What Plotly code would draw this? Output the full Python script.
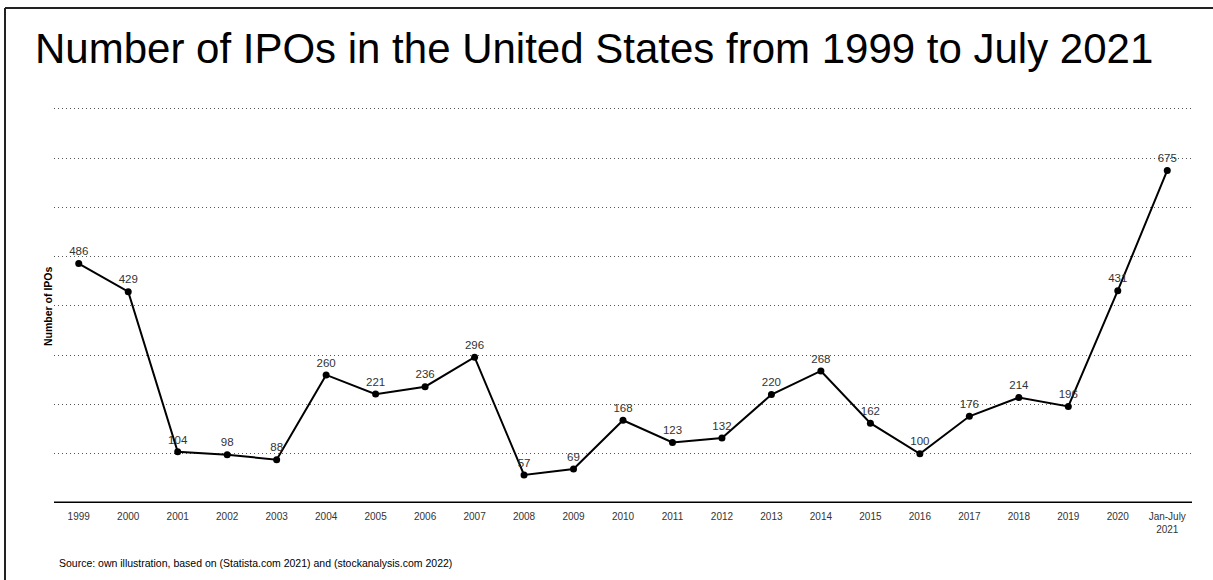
import plotly.graph_objects as go

categories = ["1999", "2000", "2001", "2002", "2003", "2004", "2005", "2006", "2007",
              "2008", "2009", "2010", "2011", "2012", "2013", "2014", "2015", "2016",
              "2017", "2018", "2019", "2020", "Jan-July<br>2021"]
ipos = [486, 429, 104, 98, 88, 260, 221, 236, 296, 57, 69, 168, 123, 132, 220, 268,
        162, 100, 176, 214, 196, 431, 675]
y_ticks = [0, 100, 200, 300, 400, 500, 600, 700, 800]

W, H = 1213, 580
Y_MAX = 820
L, R, B = 54, 21, 77
unit = 394 / 800.0
T = int(round(H - B - Y_MAX * unit))
pw, ph = W - L - R, H - T - B

def px_x(p):
    return (p - L) / pw

def px_y(p):
    return (H - B - p) / ph

fig = go.Figure()
fig.add_trace(go.Scatter(
    x=list(range(len(categories))), y=ipos,
    mode="lines+markers+text",
    line=dict(color="black", width=2),
    marker=dict(color="black", size=7),
    text=[str(v) for v in ipos],
    textposition="top center",
    textfont=dict(family="Liberation Sans, Arial", size=11.5, color="#333"),
    cliponaxis=False,
    showlegend=False,
))

fig.update_layout(
    width=W, height=H,
    margin=dict(l=L, r=R, t=T, b=B),
    paper_bgcolor="white", plot_bgcolor="white",
    font=dict(family="Liberation Sans, Arial", color="#333"),
    title=dict(
        text="Number of IPOs in the United States from 1999 to July 2021",
        x=35 / W, xanchor="left", xref="container",
        y=1 - 48 / H, yanchor="middle", yref="container",
        font=dict(family="Liberation Sans, Arial", size=42, color="black"),
    ),
    xaxis=dict(
        range=[-0.5, len(categories) - 0.5],
        tickmode="array",
        tickvals=list(range(len(categories))),
        ticktext=categories,
        tickfont=dict(size=10, color="#333"),
        ticklabelstandoff=6,
        showgrid=False, zeroline=False,
        showline=False, ticks="",
        fixedrange=True,
    ),
    yaxis=dict(
        range=[0, Y_MAX],
        tickvals=y_ticks,
        showticklabels=False,
        showgrid=True, gridcolor="#555", griddash="1px,3px", gridwidth=1,
        zeroline=False, showline=False, ticks="",
        fixedrange=True,
    ),
)

# x axis baseline
fig.add_shape(type="line", xref="paper", yref="y", x0=0, x1=1, y0=0, y1=0,
              line=dict(color="black", width=3))

# frame lines (top and left)
fig.add_shape(type="line", xref="paper", yref="paper",
              x0=px_x(5), x1=px_x(W + 5), y0=px_y(8), y1=px_y(8),
              line=dict(color="#222", width=2))
fig.add_shape(type="line", xref="paper", yref="paper",
              x0=px_x(5), x1=px_x(5), y0=px_y(8), y1=px_y(H + 5),
              line=dict(color="#222", width=2))

fig.add_annotation(
    text="<b>Number of IPOs</b>", textangle=-90,
    xref="paper", yref="paper", x=px_x(48), y=px_y(306),
    xanchor="center", yanchor="middle", showarrow=False,
    font=dict(size=10.5, color="black"),
)

fig.add_annotation(
    text="Source: own illustration, based on (Statista.com 2021) and (stockanalysis.com 2022)",
    xref="paper", yref="paper", x=px_x(57), y=px_y(563),
    xanchor="left", yanchor="middle", showarrow=False,
    font=dict(family="Liberation Sans, Arial", size=10.5, color="black"),
)

fig.write_html("out.html")
